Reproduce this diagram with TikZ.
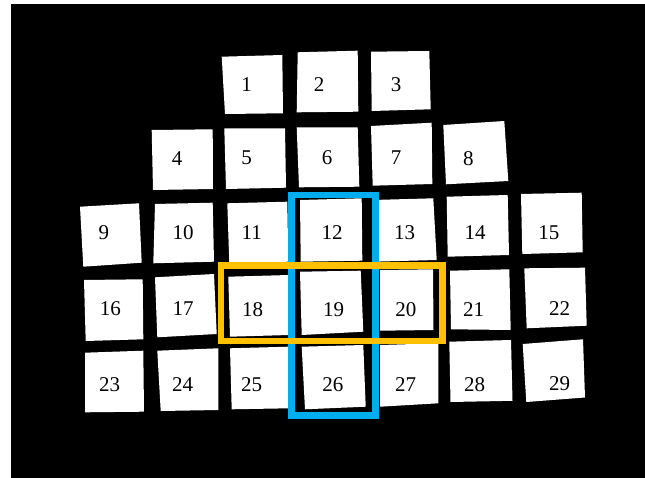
\documentclass[tikz,border=0pt]{standalone}
\usepackage{fontspec}
\setmainfont{Liberation Serif}
\definecolor{frameblue}{HTML}{00AEEF}
\definecolor{frameorange}{HTML}{FFC000}
\begin{document}
\begin{tikzpicture}[x=1pt,y=-1pt,
  tile/.style={fill=white,draw=none},
  lbl/.style={font=\fontsize{21}{21}\selectfont,inner sep=0pt,anchor=center},
  bluebox/.style={draw=frameblue,line width=6.7pt},
  orangebox/.style={draw=frameorange,line width=6.7pt}]
\useasboundingbox (0,0) rectangle (645,478);
\fill[white] (0,0) rectangle (645,478);
\fill[black] (11,4) rectangle (645,478);
% row 1
\fill[tile] (221.7,56.7) -- (282.3,55) -- (283,113.3) -- (225,114) -- cycle;
\fill[tile] (297.7,52.3) -- (357.7,50.7) -- (358.3,111.7) -- (296.7,112.3) -- cycle;
\fill[tile] (371,51.7) -- (429.3,51) -- (430.7,109.3) -- (371.7,111) -- cycle;
% row 2
\fill[tile] (151.7,130) -- (212.7,129.3) -- (213,189) -- (153,190) -- cycle;
\fill[tile] (224.3,128.3) -- (285,128.3) -- (286,187.7) -- (226,189) -- cycle;
\fill[tile] (296.7,127.3) -- (357.7,127.3) -- (359.3,186.7) -- (299,187.3) -- cycle;
\fill[tile] (371,126) -- (431.7,122.7) -- (432.3,184) -- (372.7,185.7) -- cycle;
\fill[tile] (443.3,125) -- (504.3,121) -- (508.3,181) -- (446,184.3) -- cycle;
% row 3
\fill[tile] (80,206.7) -- (139,203.3) -- (141.7,262.7) -- (83.3,266.7) -- cycle;
\fill[tile] (155,204) -- (212.7,202.7) -- (214,261.7) -- (153.3,263.3) -- cycle;
\fill[tile] (227.3,203.3) -- (287.3,201.7) -- (288.3,261.7) -- (229.3,263.3) -- cycle;
\fill[tile] (300,200) -- (361.7,198.3) -- (362.3,260.7) -- (300.7,261.7) -- cycle;
\fill[tile] (372.7,200) -- (433.3,198.3) -- (436.7,260) -- (373.3,261.7) -- cycle;
\fill[tile] (446.7,196.7) -- (507.7,195) -- (509,255) -- (447.7,256.7) -- cycle;
\fill[tile] (521,194) -- (581.7,192.7) -- (582.7,252.3) -- (522.3,254) -- cycle;
% row 4
\fill[tile] (84,280) -- (142.7,279.3) -- (143.3,339.3) -- (85.7,341) -- cycle;
\fill[tile] (155,277.3) -- (214,274) -- (216.7,334) -- (157.3,337.3) -- cycle;
\fill[tile] (228.3,276.7) -- (289.3,275) -- (289.3,335) -- (230,336.7) -- cycle;
\fill[tile] (300,271.7) -- (360.7,270.7) -- (363.3,331.7) -- (301.7,335) -- cycle;
\fill[tile] (380,270) -- (433,269.3) -- (433.5,330) -- (380,330.7) -- cycle;
\fill[tile] (450,270.7) -- (509.3,269.3) -- (510.7,330) -- (451,329.3) -- cycle;
\fill[tile] (524.3,268.3) -- (585,267.7) -- (586.7,325.7) -- (526.7,328.3) -- cycle;
% row 5
\fill[tile] (85,352.7) -- (143.3,350.7) -- (144,411.7) -- (85,412.3) -- cycle;
\fill[tile] (157.3,350.7) -- (218.3,348.3) -- (218.3,410) -- (160.7,411) -- cycle;
\fill[tile] (230,348.3) -- (288.3,346.7) -- (289.3,408.3) -- (231.7,409.3) -- cycle;
\fill[tile] (301.7,346.7) -- (363.3,345) -- (365.7,406.7) -- (305,409.3) -- cycle;
\fill[tile] (380,345) -- (438.3,343.3) -- (438.3,403.3) -- (380,406.7) -- cycle;
\fill[tile] (449.3,341.7) -- (511,340) -- (512.5,400.8) -- (450.5,402) -- cycle;
\fill[tile] (522.7,344) -- (583,339.3) -- (585,397.5) -- (526.3,402) -- cycle;
% labels
\node[lbl] (n1) at (246.7,84.2) {1};
\node[lbl] (n2) at (319.2,84.2) {2};
\node[lbl] (n3) at (396,84.4) {3};
\node[lbl] (n4) at (177.2,158.8) {4};
\node[lbl] (n5) at (246.7,158) {5};
\node[lbl] (n6) at (327.2,158) {6};
\node[lbl] (n7) at (396,158) {7};
\node[lbl] (n8) at (468.3,158.7) {8};
\node[lbl] (n9) at (103.8,232.5) {9};
\node[lbl] (n10) at (183,232.5) {10};
\node[lbl] (n11) at (251.7,232.5) {11};
\node[lbl] (n12) at (332.2,232.5) {12};
\node[lbl] (n13) at (404.7,232.5) {13};
\node[lbl] (n14) at (475,232.5) {14};
\node[lbl] (n15) at (548.8,232.5) {15};
\node[lbl] (n16) at (110.3,308.7) {16};
\node[lbl] (n17) at (183,308.7) {17};
\node[lbl] (n18) at (252.5,309.2) {18};
\node[lbl] (n19) at (333.7,309.2) {19};
\node[lbl] (n20) at (405.8,309.2) {20};
\node[lbl] (n21) at (473.7,309.2) {21};
\node[lbl] (n22) at (559.5,309) {22};
\node[lbl] (n23) at (109.7,384.5) {23};
\node[lbl] (n24) at (182.5,384.5) {24};
\node[lbl] (n25) at (251.7,384.5) {25};
\node[lbl] (n26) at (332.8,384.5) {26};
\node[lbl] (n27) at (405.5,384.5) {27};
\node[lbl] (n28) at (474.5,384.7) {28};
\node[lbl] (n29) at (559.7,384) {29};
% frames
\draw[bluebox] (291.7,195) rectangle (375.7,415.7);
\draw[orangebox] (221,265.7) rectangle (442.3,341);
\end{tikzpicture}
\end{document}
